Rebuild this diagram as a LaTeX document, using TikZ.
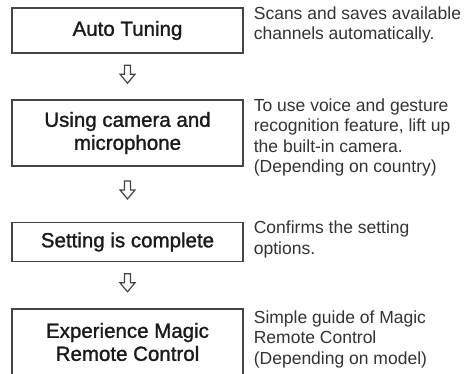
\documentclass[tikz,border=0pt]{standalone}
\usepackage{fontspec}
\setmainfont{Liberation Sans}
\newfontfamily\titlefont[FakeBold=1.3]{Liberation Sans}
\usetikzlibrary{calc}
\definecolor{ink}{HTML}{1A1A1A}
\definecolor{boxline}{HTML}{444444}
\definecolor{desctext}{HTML}{333333}
\tikzset{
  box/.style={draw=boxline, line width=1.3pt, minimum width=231pt, align=center,
    font=\titlefont\fontsize{20.5}{23}\selectfont, text=ink, inner sep=0pt},
  desc/.style={anchor=north west, align=left, inner sep=0pt,
    font=\fontsize{17.5}{20.5}\selectfont, text=desctext},
  downarrow/.pic={\draw[boxline, line width=1.2pt, line join=miter]
    (-3,-9) -- (-3,0) -- (-7.5,0) -- (0,9) -- (7.5,0) -- (3,0) -- (3,-9) -- cycle;}
}
\begin{document}
\begin{tikzpicture}[x=1pt,y=-1pt]
\useasboundingbox (0,0) rectangle (468,374);
\node[box, minimum height=45pt] (b1) at (127.5,30.5) {Auto Tuning};
\node[box, minimum height=66pt] (b2) at (127.5,133) {Using camera and\\microphone};
\node[box, minimum height=38.5pt] (b3) at (127.5,242) {Setting is complete};
\node[box, minimum height=66pt] (b4) at (127.5,342) {Experience Magic\\Remote Control};

\coordinate (a1) at ($(b1.south)!0.45!(b2.north)$);
\coordinate (a2) at ($(b2.south)!0.42!(b3.north)$);
\coordinate (a3) at ($(b3.south)!0.45!(b4.north)$);
\pic at (a1) {downarrow};
\pic at (a2) {downarrow};
\pic at (a3) {downarrow};

\node[desc] (d1) at ($(b1.north east)+(10,-1)$) {Scans and saves available\\channels automatically.};
\node[desc] (d2) at ($(b2.north east)+(10,-1)$) {To use voice and gesture\\recognition feature, lift up\\the built-in camera.\\(Depending on country)};
\node[desc] (d3) at ($(b3.north east)+(10,-1)$) {Confirms the setting\\options.};
\node[desc] (d4) at ($(b4.north east)+(10,2)$) {Simple guide of Magic\\Remote Control\\(Depending on model)};
\end{tikzpicture}
\end{document}
